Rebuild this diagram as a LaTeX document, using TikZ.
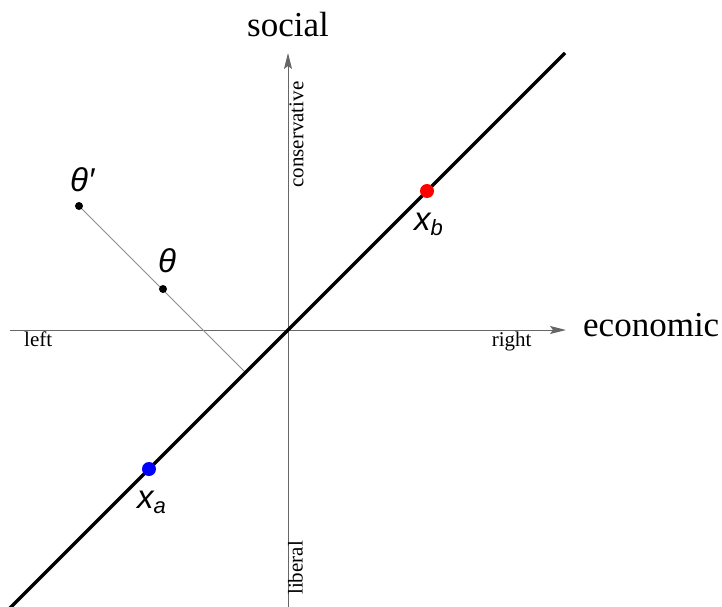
\documentclass[tikz,border=0pt]{standalone}
\usepackage{fontspec}
\setmainfont{Liberation Serif}
\newfontfamily\labfont{Liberation Sans}
\usetikzlibrary{arrows.meta,positioning}

\begin{document}
\begin{tikzpicture}[x=1pt,y=1pt,
  axis/.style={draw=black!60,line width=1pt,-{Stealth[length=16pt,width=8pt,inset=3pt]}},
  axlab/.style={inner sep=0pt,font=\fontsize{21}{21}\selectfont},
  biglab/.style={inner sep=0pt,font=\fontsize{35}{35}\selectfont},
  ptlab/.style={inner sep=0pt,font=\fontsize{33}{33}\selectfont\labfont\itshape}]
  \useasboundingbox (-288,-276) rectangle (434,330);

  % axes
  \coordinate (L) at (-278,0);
  \coordinate (R) at (278,0);
  \coordinate (B) at (0,-278);
  \coordinate (T) at (0,277);
  \draw[axis] (L) -- (R);
  \draw[axis] (B) -- (T);
  \node[biglab,anchor=base] (social) at (0,294) {social};
  \node[biglab,anchor=base west] (econ) at (295,-6.7) {economic};
  \node[axlab,anchor=base west] (left) at (-264,-16.7) {left};
  \node[axlab,anchor=base east] (right) at (243.7,-16.7) {right};
  \node[axlab,rotate=90,anchor=base west] (cons) at (15.3,142) {conservative};
  \node[axlab,rotate=90,anchor=base west] (lib) at (14.5,-265) {liberal};

  % ideal points and projection
  \coordinate (thp) at (-209,124);
  \coordinate (th) at (-125,41);
  \coordinate (foot) at (-42.5,-42.5);
  \draw[black!45,line width=1pt] (thp) -- (foot);

  % policy line
  \coordinate (P0) at (-282,-282);
  \coordinate (P1) at (277,277);
  \draw[line width=3.2pt] (P0) -- (P1);
  \coordinate (xa) at (-139,-139);
  \coordinate (xb) at (139,139);

  \fill (thp) circle (4);
  \fill (th) circle (4);
  \fill[red] (xb) circle (7);
  \fill[blue] (xa) circle (7);
  \node[ptlab,above right=14pt and -9pt of thp] (thplab) {θ′};
  \node[ptlab,above right=16pt and -5pt of th] (thlab) {θ};
  \node[ptlab,below right=22pt and -13pt of xb] (xblab) {x\raisebox{-5pt}{\fontsize{22}{22}\selectfont b}};
  \node[ptlab,below right=22pt and -12pt of xa] (xalab) {x\raisebox{-5pt}{\fontsize{22}{22}\selectfont a}};
\end{tikzpicture}
\end{document}
